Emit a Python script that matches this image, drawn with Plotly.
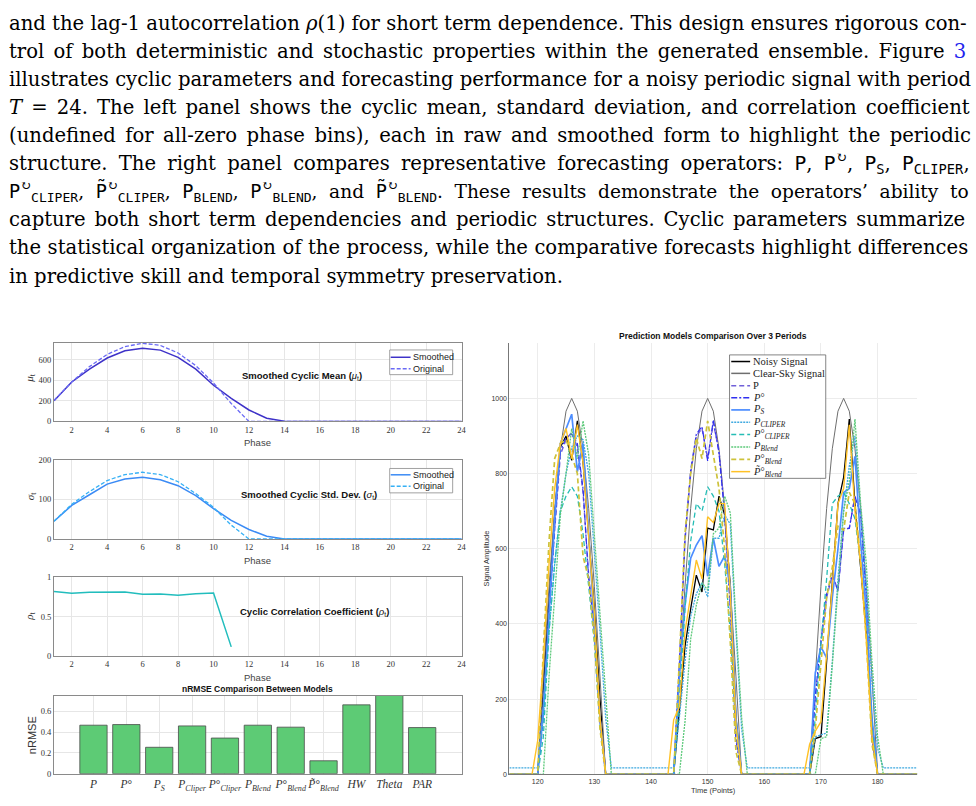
import plotly.graph_objects as go

W, H = 976, 806
def X(px): return px / W
def Y(py): return 1 - py / H

SERIF = "Liberation Serif"
TEXTSERIF = "DejaVu Serif"
SANS = "Liberation Sans"

# ---------------- left panel data (phase 1..24) ----------------
phase = list(range(1, 25))
mu_smooth = [202, 385, 510, 619, 690, 715, 696, 626, 510, 353, 225, 112, 32, 3, 0, 0, 0, 0, 0, 0, 0, 0, 0, 0]
mu_orig = [205, 385, 535, 655, 730, 763, 742, 668, 545, 375, 175, 0, 0, 0, 0, 0, 0, 0, 0, 0, 0, 0, 0, 0]
sig_smooth = [45, 85, 112, 139, 152, 156, 150, 135, 110, 77, 47, 24, 7, 0, 0, 0, 0, 0, 0, 0, 0, 0, 0, 0]
sig_orig = [45, 88, 120, 148, 163, 169, 163, 145, 115, 80, 35, 0, 0, 0, 0, 0, 0, 0, 0, 0, 0, 0, 0, 0]
rho = [0.817, 0.796, 0.808, 0.81, 0.81, 0.783, 0.787, 0.77, 0.79, 0.80, 0.117,
       None, None, None, None, None, None, None, None, None, None, None, None, None]

# ---------------- nRMSE bars ----------------
models = ["<i>P</i>", "<i>P</i>°", "<i>P<sub>S</sub></i>", "<i>P<sub>Cliper</sub></i>",
          "<i>P</i>°<sub><i>Cliper</i></sub>", "<i>P<sub>Blend</sub></i>",
          "<i>P</i>°<sub><i>Blend</i></sub>", "<i>P̃</i>°<sub><i>Blend</i></sub>",
          "<i>HW</i>", "<i>Theta</i>", "<i>PAR</i>"]
nrmse = [0.467, 0.473, 0.254, 0.460, 0.343, 0.467, 0.448, 0.124, 0.663, 0.78, 0.444]

# ---------------- right panel data (t = 115..187) ----------------
time = list(range(115, 188))
clear_sky = [0, 0, 0, 0, 0,
             0, 259, 500, 707, 866, 966, 1000, 966, 866, 707, 500, 259, 0,
             0, 0, 0, 0, 0, 0, 0, 0, 0, 0, 0,
             0, 259, 500, 707, 866, 966, 1000, 966, 866, 707, 500, 259, 0,
             0, 0, 0, 0, 0, 0, 0, 0, 0, 0, 0,
             0, 259, 500, 707, 866, 966, 1000, 966, 866, 707, 500, 259, 0,
             0, 0, 0, 0, 0, 0, 0]
noisy = [0, 0, 0, 0, 0,
         0, 230, 470, 690, 870, 900, 835, 940, 830, 640, 440, 200, 0,
         0, 0, 0, 0, 0, 0, 0, 0, 0, 0, 0,
         0, 170, 340, 440, 530, 485, 655, 650, 740, 690, 500, 150, 0,
         0, 0, 0, 0, 0, 0, 0, 0, 0, 0, 0,
         0, 95, 100, 300, 520, 720, 790, 945, 720, 560, 380, 140, 0,
         0, 0, 0, 0, 0, 0, 0]
p_plain = [0, 0, 0, 0, 0,
           0, 150, 420, 650, 850, 890, 910, 870, 750, 530, 380, 150, 0,
           0, 0, 0, 0, 0, 0, 0, 0, 0, 0, 0,
           0, 280, 620, 800, 900, 920, 840, 935, 860, 700, 450, 100, 0,
           0, 0, 0, 0, 0, 0, 0, 0, 0, 0, 0,
           0, 200, 350, 470, 530, 490, 650, 655, 740, 700, 480, 100, 0,
           0, 0, 0, 0, 0, 0, 0]
p_circ = [0, 0, 0, 0, 0,
          0, 160, 430, 660, 860, 895, 905, 880, 760, 520, 390, 140, 0,
          0, 0, 0, 0, 0, 0, 0, 0, 0, 0, 0,
          0, 290, 630, 810, 905, 925, 834, 943, 855, 690, 440, 90, 0,
          0, 0, 0, 0, 0, 0, 0, 0, 0, 0, 0,
          0, 210, 355, 480, 531, 488, 654, 654, 740, 690, 470, 90, 0,
          0, 0, 0, 0, 0, 0, 0]
p_s = [0, 0, 0, 0, 0,
       0, 180, 440, 680, 880, 920, 958, 805, 880, 640, 400, 150, 0,
       0, 0, 0, 0, 0, 0, 0, 0, 0, 0, 0,
       0, 260, 450, 575, 610, 635, 527, 628, 553, 581, 500, 150, 0,
       0, 0, 0, 0, 0, 0, 0, 0, 0, 0, 0,
       0, 270, 339, 310, 470, 600, 750, 760, 846, 620, 430, 150, 0,
       0, 0, 0, 0, 0, 0, 0]
p_cliper = [17, 17, 17, 17, 17,
            17, 150, 380, 560, 700, 800, 870, 900, 890, 800, 600, 380, 150,
            17, 17, 17, 17, 17, 17, 17, 17, 17, 17, 17,
            17, 150, 300, 420, 480, 510, 472, 628, 628, 690, 665, 380, 120,
            17, 17, 17, 17, 17, 17, 17, 17, 17, 17, 17,
            17, 100, 105, 110, 300, 520, 700, 820, 900, 700, 500, 250, 70,
            17, 17, 17, 17, 17, 17, 17]
p_cliper_circ = [0, 0, 0, 0, 0,
                 0, 100, 380, 560, 700, 740, 765, 740, 640, 500, 350, 130, 0,
                 0, 0, 0, 0, 0, 0, 0, 0, 0, 0, 0,
                 0, 200, 440, 620, 720, 700, 765, 740, 700, 560, 380, 120, 0,
                 0, 0, 0, 0, 0, 0, 0, 0, 0, 0, 0,
                 0, 150, 350, 520, 720, 740, 750, 720, 680, 560, 380, 120, 0,
                 0, 0, 0, 0, 0, 0, 0]
p_blend = [0, 0, 0, 0, 0,
           0, 0, 260, 480, 690, 800, 920, 840, 940, 850, 640, 420, 200,
           0, 0, 0, 0, 0, 0, 0, 0, 0, 0, 0,
           0, 0, 140, 360, 450, 510, 490, 640, 655, 740, 695, 400, 150,
           0, 0, 0, 0, 0, 0, 0, 0, 0, 0, 0,
           0, 0, 95, 100, 290, 500, 700, 780, 945, 720, 560, 300, 100,
           0, 0, 0, 0, 0, 0, 0]
p_blend_circ = [0, 0, 0, 0, 0,
                0, 330, 620, 840, 880, 890, 850, 800, 580, 520, 360, 120, 0,
                0, 0, 0, 0, 0, 0, 0, 0, 0, 0, 0,
                0, 300, 640, 800, 895, 840, 940, 850, 760, 600, 350, 60, 0,
                0, 0, 0, 0, 0, 0, 0, 0, 0, 0, 0,
                0, 120, 300, 470, 550, 660, 650, 750, 720, 570, 360, 80, 0,
                0, 0, 0, 0, 0, 0, 0]
p_blend_tilde = [0, 0, 0, 0, 0,
                 90, 300, 560, 760, 880, 920, 840, 930, 830, 620, 430, 150, 0,
                 0, 0, 0, 0, 0, 0, 0, 0, 0, 0, 0,
                 145, 180, 380, 480, 570, 520, 685, 670, 720, 720, 480, 130, 0,
                 0, 0, 0, 0, 0, 0, 0, 0, 0, 0, 0,
                 80, 115, 140, 320, 500, 720, 760, 930, 700, 560, 360, 100, 0,
                 0, 0, 0, 0, 0, 0, 0]

right_series = [
    ("Noisy Signal", noisy, "#000000", "solid", 1.3),
    ("Clear-Sky Signal", clear_sky, "#6e6e6e", "solid", 1.0),
    ("P", p_plain, "#7060D8", "5px,3px", 1.4),
    ("<i>P</i>°", p_circ, "#3030F0", "6px,2px,2px,2px", 1.2),
    ("<i>P<sub>S</sub></i>", p_s, "#4C8DFF", "solid", 1.7),
    ("<i>P<sub>CLIPER</sub></i>", p_cliper, "#3FA9E0", "2px,1px", 1.3),
    ("<i>P</i>°<sub><i>CLIPER</i></sub>", p_cliper_circ, "#25BDB5", "5px,3px", 1.3),
    ("<i>P<sub>Blend</sub></i>", p_blend, "#5CC97A", "2px,1px", 1.3),
    ("<i>P</i>°<sub><i>Blend</i></sub>", p_blend_circ, "#CDC23A", "5px,3px", 1.7),
    ("<i>P̃</i>°<sub><i>Blend</i></sub>", p_blend_tilde, "#FFC125", "solid", 1.4),
]

fig = go.Figure()

# left line panels
fig.add_trace(go.Scatter(x=phase, y=mu_smooth, mode="lines", line=dict(color="#3E32C8", width=1.5), xaxis="x", yaxis="y", showlegend=False))
fig.add_trace(go.Scatter(x=phase, y=mu_orig, mode="lines", line=dict(color="#6A6AF5", width=1.3, dash="4px,2px"), xaxis="x", yaxis="y", showlegend=False))
fig.add_trace(go.Scatter(x=phase, y=sig_smooth, mode="lines", line=dict(color="#3B8BF5", width=1.5), xaxis="x2", yaxis="y2", showlegend=False))
fig.add_trace(go.Scatter(x=phase, y=sig_orig, mode="lines", line=dict(color="#35B0F5", width=1.3, dash="4px,2px"), xaxis="x2", yaxis="y2", showlegend=False))
fig.add_trace(go.Scatter(x=phase, y=rho, mode="lines", line=dict(color="#22BDBD", width=1.5), xaxis="x3", yaxis="y3", showlegend=False))

# bars
fig.add_trace(go.Bar(x=models, y=nrmse, width=0.83, marker=dict(color="#5DCB75", line=dict(color="#4a4a4a", width=0.8)),
                     xaxis="x4", yaxis="y4", showlegend=False))

# right panel
for name, vals, col, dash, wid in right_series:
    fig.add_trace(go.Scatter(x=time, y=vals, mode="lines", name=name,
                             line=dict(color=col, dash=dash, width=wid), xaxis="x5", yaxis="y5", showlegend=False))

left_ax = dict(showline=True, mirror=True, linecolor="#8a8a8a", linewidth=1, gridcolor="#e6e6e6",
               zeroline=False, ticks="", tickfont=dict(family=SERIF, size=8.5, color="#333"))
xl = dict(left_ax, range=[1, 24], tickvals=list(range(2, 25, 2)), domain=[X(54.3), X(464)])

fig.update_layout(
    width=W, height=H, margin=dict(l=0, r=0, t=0, b=0),
    paper_bgcolor="white", plot_bgcolor="white", showlegend=False,
    xaxis=dict(xl, anchor="y"),
    yaxis=dict(left_ax, range=[0, 765], tickvals=[0, 200, 400, 600], domain=[Y(421.7), Y(342.3)], anchor="x"),
    xaxis2=dict(xl, anchor="y2"),
    yaxis2=dict(left_ax, range=[0, 200], tickvals=[0, 100, 200], domain=[Y(540.7), Y(460.7)], anchor="x2"),
    xaxis3=dict(xl, anchor="y3"),
    yaxis3=dict(left_ax, range=[0, 1], tickvals=[0, 0.5, 1], domain=[Y(659.3), Y(579.3)], anchor="x3"),
    xaxis4=dict(left_ax, type="category", range=[-1.2, 11.2], domain=[X(54.3), X(464)], anchor="y4",
                tickangle=0, tickfont=dict(family=SERIF, size=11.5, color="#333")),
    yaxis4=dict(left_ax, range=[0, 0.752], tickvals=[0, 0.2, 0.4, 0.6], domain=[Y(778.3), Y(699.3)], anchor="x4"),
    xaxis5=dict(showline=True, mirror=False, linecolor="#777", linewidth=1, gridcolor="#ececec", zeroline=False,
                ticks="", range=[115, 187], tickvals=[120, 130, 140, 150, 160, 170, 180],
                tickfont=dict(family=SANS, size=7, color="#333"), domain=[X(512), X(922)], anchor="y5"),
    yaxis5=dict(showline=True, mirror=False, linecolor="#777", linewidth=1, gridcolor="#ececec", zeroline=False,
                ticks="", range=[0, 1148], tickvals=[0, 200, 400, 600, 800, 1000],
                tickfont=dict(family=SANS, size=7, color="#333"), domain=[Y(779), Y(342)], anchor="x5"),
)

annotations = []
shapes = []

def ann(text, px, py, size, family=SANS, color="#000", xanchor="center", yanchor="middle", angle=0):
    annotations.append(dict(text=text, x=X(px), y=Y(py), xref="paper", yref="paper", showarrow=False,
                            xanchor=xanchor, yanchor=yanchor, textangle=angle,
                            font=dict(family=family, size=size, color=color)))

# ---------------- paragraph text ----------------
TT = "<span style=\"font-family:'DejaVu Sans Mono'\">"
E = "</span>"
lines = [
    "and the lag-1 autocorrelation <i>ρ</i>(1) for short term dependence. This design ensures rigorous con-",
    "trol of both deterministic and stochastic properties within the generated ensemble. Figure <span style=\"color:#2222ee\">3</span>",
    "illustrates cyclic parameters and forecasting performance for a noisy periodic signal with period",
    "<i>T</i> = 24. The left panel shows the cyclic mean, standard deviation, and correlation coefficient",
    "(undefined for all-zero phase bins), each in raw and smoothed form to highlight the periodic",
    "structure. The right panel compares representative forecasting operators: " + TT + "P" + E + ", " + TT + "P" + E + "<sup>↻</sup>, "
    + TT + "P<sub>S</sub>" + E + ", " + TT + "P<sub>CLIPER</sub>" + E + ",",
    TT + "P" + E + "<sup>↻</sup><sub>" + TT + "CLIPER" + E + "</sub>, " + TT + "P̃" + E + "<sup>↻</sup><sub>" + TT + "CLIPER" + E + "</sub>, "
    + TT + "P<sub>BLEND</sub>" + E + ", " + TT + "P" + E + "<sup>↻</sup><sub>" + TT + "BLEND" + E + "</sub>, and "
    + TT + "P̃" + E + "<sup>↻</sup><sub>" + TT + "BLEND" + E + "</sub>. These results demonstrate the operators’ ability to",
    "capture both short term dependencies and periodic structures. Cyclic parameters summarize",
    "the statistical organization of the process, while the comparative forecasts highlight differences",
    "in predictive skill and temporal symmetry preservation.",
]
baselines = [25, 53.7, 81.7, 110, 138.3, 166.7, 195, 223.3, 252.3, 281.7]
sizes = [19.6, 19.6, 19.6, 19.6, 19.6, 19.6, 18.6, 19.6, 19.6, 19.6]
wspace = [0, 3.0, 0, 2.9, 3.2, 5.0, 5.7, 2.6, 0.3, 0]
for txt, b, s, ws in zip(lines, baselines, sizes, wspace):
    if ws:
        txt = "<span style=\"word-spacing:%.1fpx\">" % ws + txt + "</span>"
    ann(txt, 7, b - 6.5, s, family=TEXTSERIF, xanchor="left")

# ---------------- left panel labels ----------------
ann("<b>Smoothed Cyclic Mean (</b><i>μ</i><sub>t</sub><b>)</b>", 303.7, 376, 9.5, color="#111")
ann("<b>Smoothed Cyclic Std. Dev. (</b><i>σ</i><sub>t</sub><b>)</b>", 310.8, 496, 9.5, color="#111")
ann("<b>Cyclic Correlation Coefficient (</b><i>ρ</i><sub>t</sub><b>)</b>", 315.8, 615, 9.5, color="#111")
for py in [442.7, 562, 680.7]:
    ann("Phase", 259, py, 9.5, color="#444")
ann("<i>μ</i><sub>t</sub>", 30.5, 377, 11, family=SERIF, color="#333", angle=-90)
ann("<i>σ</i><sub>t</sub>", 30.5, 497, 11, family=SERIF, color="#333", angle=-90)
ann("<i>ρ</i><sub>t</sub>", 30.5, 619, 11, family=SERIF, color="#333", angle=-90)
ann("nRMSE", 31.5, 739, 11, color="#333", angle=-90)
ann("<b>nRMSE Comparison Between Models</b>", 259, 692.3, 8.5, color="#111")

def legend_box(x0, y0, x1, y1, items, line_x0, line_x1, text_x, size, family, border="#8a8a8a"):
    shapes.append(dict(type="rect", xref="paper", yref="paper", x0=X(x0), x1=X(x1), y0=Y(y1), y1=Y(y0),
                       line=dict(color=border, width=0.8), fillcolor="white", layer="above"))
    for label, py, col, dash, wid in items:
        shapes.append(dict(type="line", xref="paper", yref="paper", x0=X(line_x0), x1=X(line_x1), y0=Y(py), y1=Y(py),
                           line=dict(color=col, dash=dash, width=wid), layer="above"))
        ann(label, text_x, py, size, family=family, xanchor="left", color="#222")

legend_box(391.7, 349.3, 455, 374.3,
           [("Smoothed", 356.7, "#3E32C8", "solid", 1.5), ("Original", 368.3, "#6A6AF5", "4px,2px", 1.3)],
           392.7, 412.7, 413.5, 9, SANS)
legend_box(391.7, 469.3, 455, 494,
           [("Smoothed", 475.7, "#3B8BF5", "solid", 1.5), ("Original", 487.3, "#35B0F5", "4px,2px", 1.3)],
           392.7, 412.7, 413.5, 9, SANS)

# ---------------- right panel labels ----------------
ann("<b>Prediction Models Comparison Over 3 Periods</b>", 717, 335.5, 8.5, color="#111")
ann("Signal Amplitude", 489, 560, 7.5, color="#333", angle=-90)
ann("Time (Points)", 717, 795, 7.5, color="#333")

leg_y = [361, 373, 385.5, 397.7, 410, 422.5, 435, 447.5, 460, 472.5]
items = []
for (name, vals, col, dash, wid), py in zip(right_series, leg_y):
    items.append((name, py, col, dash, max(wid, 1.5)))
legend_box(733.3, 354.3, 830, 479.3, items, 735, 754, 755, 10.5, SERIF, border="#666")

fig.update_layout(annotations=annotations, shapes=shapes)
fig.write_html("out.html")
